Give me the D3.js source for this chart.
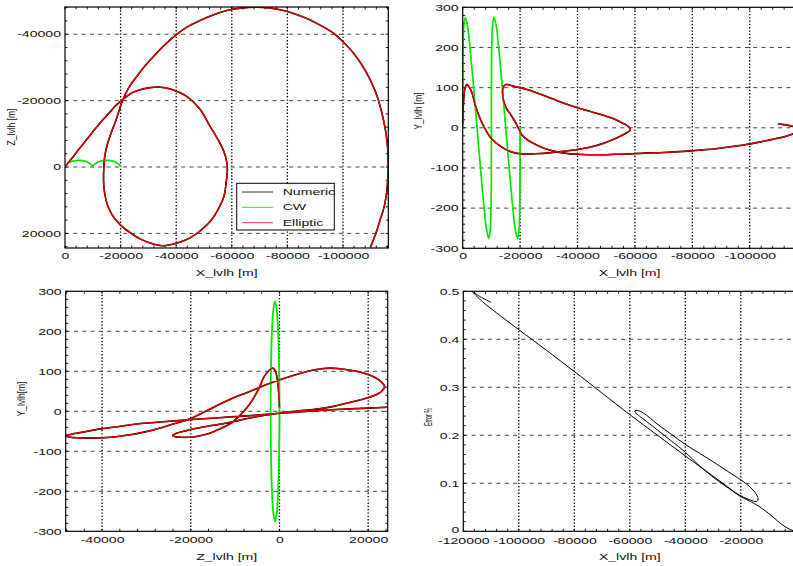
<!DOCTYPE html>
<html><head><meta charset="utf-8">
<script src="https://cdn.jsdelivr.net/npm/d3@7"></script>
<style>body{margin:0;background:#fff} svg{display:block}</style>
</head><body>
<svg id="c" width="793" height="566"></svg>
<script>
// ---------- DATA ----------
// Relative trajectory (Elliptic / Numeric), time ordered
const trajX = [0,-150,-450,-850,-1400,-2200,-3300,-4300,-5500,-6600,-8300,-10100,-13000,-15900,-18500,-21000,-24000,-27000,-30500,-33600,
  -38000,-43800,-48500,-52200,-55200,-57000,-58200,-58400,-58000,-57200,-55300,-52800,-49000,-45000,-40000,-35000,-31000,-27000,-23000,-19800,
  -17000,-15200,-14300,-13900,-13900,-14300,-15300,-16800,-18500,-20800,-23000,-25800,-28800,-31800,-35500,-39950,-44000,-48600,-53300,-58200,
  -63300,-68400,-73500,-78600,-83500,-88200,-92500,-96600,-100300,-103800,-107000,-109800,-112200,-114000,-115300,-116100,-116300,-116100,-115700,-114800,
  -113400,-111800,-109800];
const trajZ = [0,-170,-480,-900,-1500,-2350,-3500,-4600,-5850,-7000,-8800,-10700,-13650,-16300,-18700,-20450,-22300,-23300,-23900,-24100,
  -23500,-21250,-17500,-12230,-8000,-5000,-1500,1000,4500,8800,12500,15800,19000,21350,23000,23700,23000,21650,19500,17340,
  14500,11330,8000,4800,1500,-3200,-7000,-10730,-14500,-20250,-24000,-27270,-30500,-33280,-36500,-39800,-42200,-44110,-45800,-47120,
  -47850,-48150,-47900,-47120,-45900,-44310,-42400,-40300,-37500,-34290,-30500,-26270,-21500,-16240,-11000,-5500,0,4000,7820,12000,
  15840,20000,24360];
const trajY = [10,45,80,100,108,102,86,58,33,14,-9,-28,-45,-57,-63,-65,-65,-64,-62,-60,
  -56,-49,-40,-30,-20,-13,-7,-3,1,6,13,22,31,39.5,50,62,73,84,94,100,
  105,108,104,95,84,66,48,32,12,-19,-32,-43,-52,-58,-63,-66,-67,-67,-66,-65,
  -63,-62,-60,-58,-55,-52,-48,-44,-40,-35,-30,-26,-22,-18,-14,-10,-5,-2,1,4,
  6,8,10];

// Clohessy-Wiltshire solution, time ordered (two periods)
const cwX = [0,-20,-120,-400,-900,-1650,-2600,-3750,-5000,-6250,-7400,-8350,-9100,-9600,-9880,-9980,-10000,
  -10020,-10120,-10400,-10900,-11650,-12600,-13750,-15000,-16250,-17400,-18350,-19100,-19600,-19880,-19980,-20000];
const cwY = [0,105,195,255,275,255,195,105,0,-105,-195,-255,-275,-255,-195,-105,0,
  105,195,255,275,255,195,105,0,-105,-195,-255,-275,-255,-195,-105,0];
const cwZ = [0,-80,-290,-620,-1000,-1380,-1710,-1920,-2000,-1920,-1710,-1380,-1000,-620,-290,-80,0,
  -80,-290,-620,-1000,-1380,-1710,-1920,-2000,-1920,-1710,-1380,-1000,-620,-290,-80,0];

// Error % versus X_lvlh, time ordered
const errX = [0,-1000,-3000,-5850,-8000,-10600,-13500,-16500,-20250,-23000,-26000,-30000,-35000,-40000,-45000,-50000,-54000,-56500,-58000,-58100,
  -57300,-55000,-50000,-45000,-40000,-35000,-30000,-25000,-20000,-17000,-15000,-13900,-13800,-14500,-16500,-19000,-22000,-26000,-30000,-35000,
  -40000,-50000,-60000,-70000,-80000,-90000,-100000,-108000,-113000,-116800,-114000,-110000];
const errPct = [0,0.001,0.006,0.017,0.028,0.040,0.052,0.062,0.073,0.084,0.096,0.113,0.137,0.165,0.188,0.211,0.229,0.240,0.247,0.251,
  0.252,0.246,0.223,0.202,0.181,0.163,0.145,0.126,0.107,0.094,0.082,0.071,0.065,0.062,0.065,0.071,0.081,0.098,0.115,0.136,
  0.157,0.200,0.243,0.288,0.333,0.377,0.420,0.455,0.478,0.500,0.489,0.477];

// Tick values
const ticksXlvlh = [0,-20000,-40000,-60000,-80000,-100000];
const ticksZlvlh = [-40000,-20000,0,20000];
const ticksYlvlh = [-300,-200,-100,0,100,200,300];
const ticksErrX = [-120000,-100000,-80000,-60000,-40000,-20000];
const ticksErr = [0,0.1,0.2,0.3,0.4,0.5];
const legendNames = ["Numeric","CW","Elliptic"];

// ---------- STYLE ----------
const FONT = "'Liberation Sans', Arial, Helvetica, sans-serif";
const FS = 8.5, SX = 1.66;
const C_NUM = "#000", C_CW = "#00e800", C_ELL = "#d80000";

const svg = d3.select('#c');

const panels = [
  {id:1, left:65, right:388.3, top:7, bottom:248, xDom:[0,-116300], yDom:[24400,-48200],
   xt:ticksXlvlh, yt:ticksZlvlh, xMinor:4000, yMinor:4000, xPad:5,
   xTitle:"X_lvlh [m]", xTitleY:272.7, yTitle:"Z_lvlh [m]", yTitleX:11, yTitleY:127,
   series:[{xs:trajX, ys:trajZ, c:C_NUM, w:1.6},{xs:cwX, ys:cwZ, c:C_CW, w:1.6},{xs:trajX, ys:trajZ, c:C_ELL, w:1.4}]},
  {id:2, left:462.7, right:796.5, top:7.3, bottom:248.3, xDom:[0,-116300], yDom:[-300,300],
   xt:ticksXlvlh, yt:ticksYlvlh, xMinor:4000, yMinor:20, xPad:5,
   xTitle:"X_lvlh [m]", xTitleY:272.7, yTitle:"Y_lvlh [m]", yTitleX:418, yTitleY:111,
   series:[{xs:trajX, ys:trajY, c:C_NUM, w:1.6},{xs:cwX, ys:cwY, c:C_CW, w:1.7},{xs:trajX, ys:trajY, c:C_ELL, w:1.4}]},
  {id:3, left:65.7, right:387.7, top:291.3, bottom:531.3, xDom:[-48200,24400], yDom:[-300,300],
   xt:ticksZlvlh, yt:ticksYlvlh, xMinor:4000, yMinor:20, xPad:5.5,
   xTitle:"Z_lvlh [m]", xTitleY:557, yTitle:"Y_lvlh[m]", yTitleX:21.5, yTitleY:399,
   series:[{xs:trajZ, ys:trajY, c:C_NUM, w:1.6},{xs:cwZ, ys:cwY, c:C_CW, w:1.8},{xs:trajZ, ys:trajY, c:C_ELL, w:1.4}]},
  {id:4, left:463.3, right:796.3, top:291.3, bottom:531.3, xDom:[-120000,0], yDom:[0,0.5],
   xt:ticksErrX, yt:ticksErr, xMinor:4000, yMinor:0.02, xPad:6.3, y0Shift:-1.2,
   xTitle:"X_lvlh [m]", xTitleY:557, yTitle:"Error %", yTitleX:428.5, yTitleY:417, yTitleLen:18,
   series:[{xs:errX, ys:errPct, c:C_NUM, w:1.0}]}
];

function minorVals(dom, step){
  const lo = Math.min(dom[0],dom[1]), hi = Math.max(dom[0],dom[1]);
  const out = [];
  for (let k = Math.ceil(lo/step); k*step <= hi + 1e-9; k++) out.push(k*step);
  return out;
}

panels.forEach(p => {
  const x = d3.scaleLinear().domain(p.xDom).range([p.left, p.right]);
  const y = d3.scaleLinear().domain(p.yDom).range([p.bottom, p.top]);
  const g = svg.append('g');
  const clipId = 'clip' + p.id;
  svg.append('clipPath').attr('id', clipId).append('rect')
    .attr('x', p.left).attr('y', p.top).attr('width', p.right - p.left).attr('height', p.bottom - p.top);

  // grid: vertical dotted, horizontal dashed
  g.append('g').selectAll('line').data(p.xt.filter(v => x(v) > p.left + 1 && x(v) < p.right - 1)).join('line')
    .attr('x1', d => x(d)).attr('x2', d => x(d)).attr('y1', p.top).attr('y2', p.bottom)
    .attr('stroke', '#000').attr('stroke-width', 1.3).attr('stroke-dasharray', '1.4,1.9');
  g.append('g').selectAll('line').data(p.yt.filter(v => y(v) > p.top + 1 && y(v) < p.bottom - 1)).join('line')
    .attr('y1', d => y(d)).attr('y2', d => y(d)).attr('x1', p.left).attr('x2', p.right)
    .attr('stroke', '#444').attr('stroke-width', 1).attr('stroke-dasharray', '4,4.3');

  // minor ticks inside the frame
  const mt = g.append('g').attr('stroke', '#000').attr('stroke-width', 0.9);
  minorVals(p.xDom, p.xMinor).forEach(v => {
    const px = x(v);
    mt.append('line').attr('x1', px).attr('x2', px).attr('y1', p.top).attr('y2', p.top + 2.5);
    mt.append('line').attr('x1', px).attr('x2', px).attr('y1', p.bottom).attr('y2', p.bottom - 2.5);
  });
  minorVals(p.yDom, p.yMinor).forEach(v => {
    const py = y(v);
    mt.append('line').attr('y1', py).attr('y2', py).attr('x1', p.left).attr('x2', p.left + 2.5);
    mt.append('line').attr('y1', py).attr('y2', py).attr('x1', p.right).attr('x2', p.right - 2.5);
  });

  // data curves
  const cg = g.append('g').attr('clip-path', `url(#${clipId})`);
  p.series.forEach(s => {
    const idx = d3.range(s.xs.length);
    const path = d3.line().x(i => x(s.xs[i])).y(i => y(s.ys[i])).curve(d3.curveCatmullRom.alpha(0.5))(idx);
    cg.append('path').attr('d', path).attr('fill', 'none').attr('stroke', s.c)
      .attr('stroke-width', s.w).attr('stroke-linejoin', 'round');
  });

  // frame
  g.append('rect').attr('x', p.left).attr('y', p.top).attr('width', p.right - p.left).attr('height', p.bottom - p.top)
    .attr('fill', 'none').attr('stroke', '#000').attr('stroke-width', 1.2);

  // axes (labels only)
  const ax = g.append('g').attr('transform', `translate(0,${p.bottom})`)
    .call(d3.axisBottom(x).tickValues(p.xt).tickSize(0).tickPadding(p.xPad).tickFormat(d => String(d)));
  const ay = g.append('g').attr('transform', `translate(${p.left},0)`)
    .call(d3.axisLeft(y).tickValues(p.yt).tickSize(0).tickPadding(4 / SX).tickFormat(d => String(d)));
  [ax, ay].forEach(a => {
    a.select('.domain').remove();
    a.attr('font-size', FS).attr('font-family', FONT);
    a.selectAll('text').attr('fill', '#111').attr('transform', `scale(${SX},1)`);
  });
  if (p.y0Shift) ay.selectAll('.tick').filter(d => d === 0).select('text').attr('y', p.y0Shift);

  // titles
  g.append('text').attr('transform', `translate(${(p.left + p.right) / 2},${p.xTitleY}) scale(${SX},1)`)
    .attr('text-anchor', 'middle').attr('dy', '0.35em').attr('font-size', FS).attr('font-family', FONT)
    .attr('fill', '#111').text(p.xTitle);
  const yt = g.append('text').attr('transform', `translate(${p.yTitleX},${p.yTitleY}) scale(1.25,1) rotate(-90)`)
    .attr('text-anchor', 'middle').attr('dy', '0.35em').attr('font-size', FS).attr('font-family', FONT)
    .attr('fill', '#111').text(p.yTitle);
  if (p.yTitleLen) yt.attr('textLength', p.yTitleLen).attr('lengthAdjust', 'spacingAndGlyphs');
});

// legend (panel 1)
const lg = svg.append('g');
lg.append('rect').attr('x', 236.7).attr('y', 183.3).attr('width', 97.6).attr('height', 46.7)
  .attr('fill', '#fff').attr('stroke', '#000').attr('stroke-width', 1);
const legendColors = ["#333", "#22ee22", "#ff4444"];
legendNames.forEach((n, i) => {
  const yy = 192 + i * 15.35;
  lg.append('line').attr('x1', 242).attr('x2', 273).attr('y1', yy).attr('y2', yy)
    .attr('stroke', legendColors[i]).attr('stroke-width', 1);
  lg.append('text').attr('transform', `translate(282.7,${yy}) scale(${SX},1)`).attr('dy', '0.35em')
    .attr('font-size', FS).attr('font-family', FONT).attr('fill', '#111').text(n);
});
</script>
</body></html>
